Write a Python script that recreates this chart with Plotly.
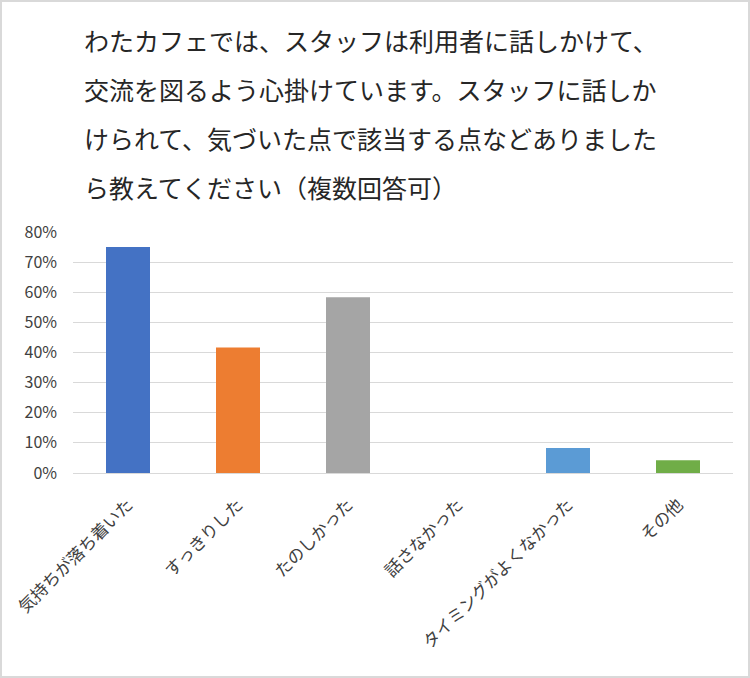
import plotly.graph_objects as go

title_lines = [
    "わたカフェでは、スタッフは利用者に話しかけて、",
    "交流を図るよう心掛けています。スタッフに話しか",
    "けられて、気づいた点で該当する点などありました",
    "ら教えてください（複数回答可）",
]
categories = ["気持ちが落ち着いた", "すっきりした", "たのしかった", "話さなかった", "タイミングがよくなかった", "その他"]
values = [0.75, 0.417, 0.583, 0.0, 0.083, 0.042]
colors = ["#4472C4", "#ED7D31", "#A5A5A5", "#FFC000", "#5B9BD5", "#70AD47"]
y_ticks = [0, 0.1, 0.2, 0.3, 0.4, 0.5, 0.6, 0.7, 0.8]
y_ticklabels = ["0%", "10%", "20%", "30%", "40%", "50%", "60%", "70%", "80%"]

W, H = 750, 678
ml, mr, mt, mb = 73, 17, 232, 205

fig = go.Figure(go.Bar(x=categories, y=values, marker_color=colors, width=0.4,
                       marker_line_width=0, hoverinfo="skip"))

font = "Noto Sans CJK JP, Noto Sans, sans-serif"
pw, ph = W - ml - mr, H - mt - mb
annotations = []
for i, line in enumerate(title_lines):
    annotations.append(dict(
        text=line, xref="paper", yref="paper",
        x=(82 - ml) / pw, y=1 + (mt - (40 + 49 * i)) / ph,
        xanchor="left", yanchor="middle", showarrow=False,
        font=dict(family=font, size=25, color="#262626"),
    ))

fig.update_layout(
    width=W, height=H,
    margin=dict(l=ml, r=mr, t=mt, b=mb),
    paper_bgcolor="white", plot_bgcolor="white",
    showlegend=False,
    annotations=annotations,
    xaxis=dict(
        tickangle=-45, tickfont=dict(family=font, size=17, color="#404040"),
        showline=True, linecolor="#d9d9d9", linewidth=1, ticks="",
        showgrid=False, ticklabelstandoff=14,
    ),
    yaxis=dict(
        range=[0, 0.8], tickvals=y_ticks, ticktext=y_ticklabels,
        tickfont=dict(family=font, size=16, color="#404040"),
        showgrid=True, gridcolor="#d9d9d9", gridwidth=1, zeroline=False,
        ticks="", ticklabelstandoff=15,
    ),
    shapes=[dict(
        type="rect", xref="paper", yref="paper",
        x0=-ml / pw + 1 / pw, x1=1 + mr / pw - 1 / pw,
        y0=-mb / ph + 1 / ph, y1=1 + mt / ph - 1 / ph,
        line=dict(color="#d9d9d9", width=2), layer="below",
    )],
)

fig.write_html("out.html", config={"displayModeBar": False},
               post_script="document.body.style.margin='0';")
